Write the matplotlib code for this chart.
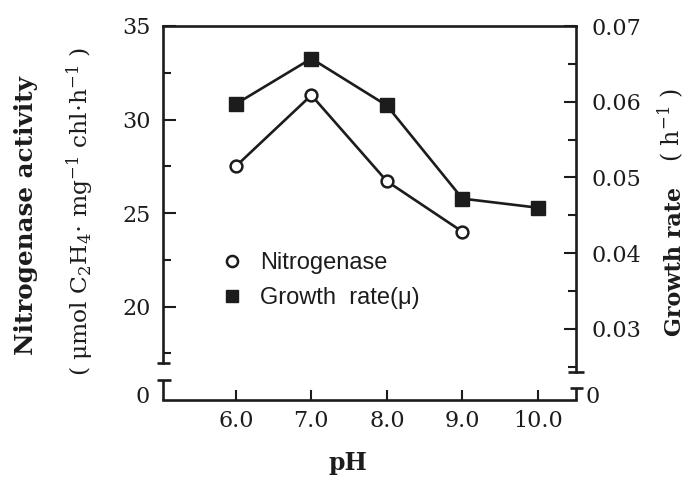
import matplotlib
matplotlib.use('Agg')
import matplotlib.pyplot as plt
from matplotlib.lines import Line2D

# ---- data ----
ph_nitro = [6.0, 7.0, 8.0, 9.0]
nitrogenase = [27.5, 31.3, 26.7, 24.0]
ph_growth = [6.0, 7.0, 8.0, 9.0, 10.0]
growth_rate = [0.0597, 0.0657, 0.0595, 0.0472, 0.0460]
x_ticks = [6.0, 7.0, 8.0, 9.0, 10.0]
x_ticklabels = ['6.0', '7.0', '8.0', '9.0', '10.0']
left_ticks = [20, 25, 30, 35]
left_minor = [17.5, 22.5, 27.5, 32.5]
right_ticks = [0.03, 0.04, 0.05, 0.06, 0.07]
right_ticklabels = ['0.03', '0.04', '0.05', '0.06', '0.07']
right_minor = [0.025, 0.035, 0.045, 0.055, 0.065]

plt.rcParams['mathtext.fontset'] = 'dejavuserif'
SERIF = 'DejaVu Serif'
SANS = 'Liberation Sans'
INK = '#1c1c1c'

W, H = 694, 478
fig = plt.figure(figsize=(W / 100, H / 100), dpi=100)
fig.patch.set_facecolor('white')


def fx(px):
    return px / W


def fy(py):
    return 1 - py / H


X0, X1, YT, YB = 163, 576, 26, 400
ax = fig.add_axes([fx(X0), fy(YB), (X1 - X0) / W, (YB - YT) / H])
ax2 = ax.twinx()

ax.set_xlim(5.035, 10.505)
ax.set_ylim(15, 35)
ax2.set_ylim(0.0206, 0.07)

lw_sp = 1.9
for a in (ax, ax2):
    for s in a.spines.values():
        s.set_linewidth(lw_sp)
        s.set_color(INK)
ax.spines['right'].set_visible(False)
ax2.spines['left'].set_visible(False)
ax2.spines['top'].set_visible(False)
ax2.spines['bottom'].set_visible(False)

# broken axes
ax.spines['left'].set_bounds(16.98, 35)
ax2.spines['right'].set_bounds(0.0243, 0.07)

tr = ax.transAxes
dxl = 6.5 / (X1 - X0)
f_up_l = (YB - 363) / (YB - YT)
f_lo_l = (YB - 380) / (YB - YT)
f_up_r = (YB - 372) / (YB - YT)
f_lo_r = (YB - 388) / (YB - YT)
segs = [
    ([0, 0], [0, f_lo_l]),
    ([-dxl, dxl], [f_up_l, f_up_l]),
    ([-dxl, dxl * 1.2], [f_lo_l, f_lo_l]),
    ([1, 1], [0, f_lo_r]),
    ([1 - dxl * 1.2, 1 + dxl * 1.3], [f_up_r, f_up_r]),
    ([1 - dxl, 1 + dxl], [f_lo_r, f_lo_r]),
]
for xs, ys in segs:
    ax.add_line(Line2D(xs, ys, transform=tr, clip_on=False, color=INK,
                       lw=lw_sp, solid_capstyle='butt'))

# ticks
ax.set_xticks(x_ticks)
ax.set_xticklabels(x_ticklabels, family=SERIF, fontsize=16, color=INK)
ax.tick_params(axis='x', direction='in', length=7, width=1.5, pad=7, colors=INK)
ax.set_yticks(left_ticks)
ax.set_yticklabels([str(t) for t in left_ticks], family=SERIF, fontsize=16, color=INK)
ax.set_yticks(left_minor, minor=True)
ax.tick_params(axis='y', which='major', direction='in', length=9, width=1.5, pad=9, colors=INK)
ax.tick_params(axis='y', which='minor', direction='in', length=6, width=1.5, colors=INK)

ax2.set_yticks(right_ticks)
ax2.set_yticklabels(right_ticklabels, family=SERIF, fontsize=16, color=INK)
ax2.set_yticks(right_minor, minor=True)
ax2.tick_params(axis='y', which='major', direction='in', length=9, width=1.5, pad=11, colors=INK)
ax2.tick_params(axis='y', which='minor', direction='in', length=6, width=1.5, colors=INK)

# zero labels at the break
fig.text(fx(143), fy(397), '0', family=SERIF, fontsize=16, color=INK, ha='center', va='center')
fig.text(fx(593), fy(397), '0', family=SERIF, fontsize=16, color=INK, ha='center', va='center')

# data
ax.plot(ph_nitro, nitrogenase, color=INK, lw=1.9, marker='o', ms=8.5,
        mfc='white', mec=INK, mew=1.8, zorder=3, clip_on=False)
ax2.plot(ph_growth, growth_rate, color=INK, lw=1.9, marker='s', ms=9.5,
         mfc=INK, mec=INK, zorder=3, clip_on=False)

# labels
fig.text(fx(348), fy(463), 'pH', family=SERIF, fontweight='bold', fontsize=17,
         color=INK, ha='center', va='center')
fig.text(fx(26), fy(216), 'Nitrogenase activity', family=SERIF, fontweight='bold',
         fontsize=17.7, color=INK, ha='center', va='center', rotation=90)
fig.text(fx(80), fy(212), r'( μmol C$_2$H$_4$$\cdot$ mg$^{-1}$ chl$\cdot$h$^{-1}$ )',
         family=SERIF, fontsize=16.8, color=INK, ha='center', va='center', rotation=90)
fig.text(fx(675), fy(261), 'Growth rate', family=SERIF, fontweight='bold',
         fontsize=16, color=INK, ha='center', va='center', rotation=90)
fig.text(fx(671), fy(125), r'( h$^{-1}$ )', family=SERIF,
         fontsize=17, color=INK, ha='center', va='center', rotation=90)

# legend
handles = [
    Line2D([], [], ls='none', marker='o', ms=8, mfc='white', mec=INK, mew=1.8),
    Line2D([], [], ls='none', marker='s', ms=8.5, mfc=INK, mec=INK),
]
fig.legend(handles, ['Nitrogenase', 'Growth  rate(μ)'], loc='upper left',
           bbox_to_anchor=(fx(222.6), fy(252)), frameon=False,
           prop={'family': SANS, 'size': 17}, handlelength=0.8,
           handletextpad=0.79, labelspacing=0.55, borderaxespad=0, borderpad=0,
           labelcolor=INK)

fig.savefig('out.png', dpi=100, facecolor='white')
